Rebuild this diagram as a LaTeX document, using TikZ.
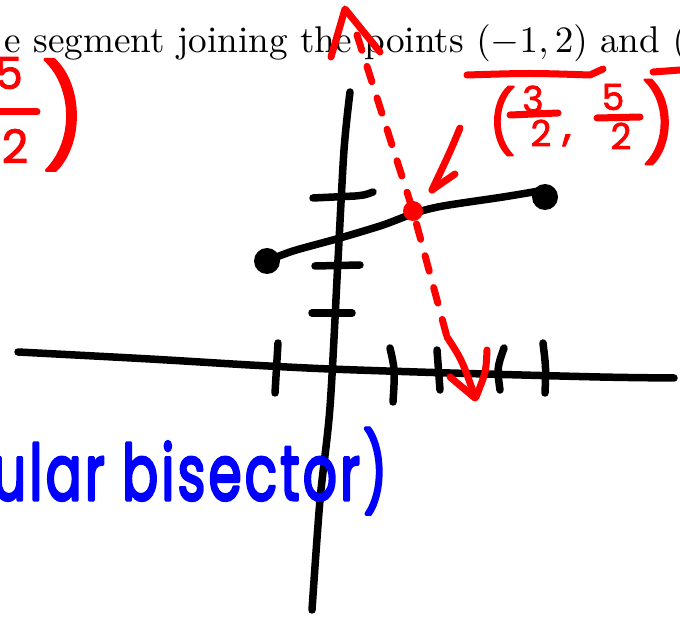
\documentclass[tikz,border=0pt]{standalone}
\usepackage{fontspec}
\newfontfamily\hand{Poppins}
\begin{document}
\begin{tikzpicture}[x=1pt,y=-1pt,line cap=round,line join=round,
  blk/.style={line width=7.5pt,black},
  rd/.style={line width=7pt,red},
  hr/.style={text=red,inner sep=0pt,font=\hand},
  ]
\useasboundingbox (0,0) rectangle (680,617);
\clip (0,0) rectangle (680,617);
% printed text
\node[anchor=base west, inner sep=0pt, scale=3.72] (title) at (4,53) {e segment joining the points $(-1,2)$ and $($};
% axes
\draw[blk] plot[smooth] coordinates {(18,352) (150,359) (250,365) (330,369) (450,373) (600,377) (674,378)};
\draw[blk] plot[smooth] coordinates {(350,92) (344,150) (338,260) (330,407) (320,500) (312,610)};
% y ticks
\draw[blk] (313,198) -- (355,196) .. controls (365,195) .. (373,192);
\draw[blk] (315,266) -- (360,265);
\draw[blk] (312,313) -- (352,313);
% x ticks
\draw[blk] (278,343) -- (275,393);
\draw[blk] (390,348) .. controls (395,370) .. (393,402);
\draw[blk] (437,350) -- (440,390);
\draw[blk] (504,348) .. controls (497,368) .. (500,390);
\draw[blk] (543,343) .. controls (546,368) .. (545,393);
% segment
\draw[blk] plot[smooth] coordinates {(267,261) (293,251) (340,238) (383,225) (415,213) (443,206) (503,197) (545,190)};
\fill[black] (267,261) circle (13);
\fill[black] (545,197) circle (13);
% perpendicular bisector (red dashed)
\draw[rd, dash pattern=on 16pt off 17pt] (357,35) -- (413,211) -- (447,337);
\draw[rd] (447,337) .. controls (462,360) .. (475,397);
\draw[rd] (450,377) -- (475,398);
\draw[rd] (487,350) .. controls (486,372) .. (476,397);
\draw[rd] (331,57) -- (345,9) -- (380,52);
\fill[red] (413,211) circle (10);
% label arrow
\draw[rd] (460,128) .. controls (450,152) .. (432,190);
\draw[rd] (455,174) -- (432,190);
% overlines
\draw[rd] (467,75) .. controls (530,73) .. (590,75) -- (603,69);
\draw[rd] (653,72) -- (680,70);
% midpoint label (3/2, 5/2)
\node[hr, font=\hand\addfontfeature{FakeBold=2}\fontsize{62}{62}\selectfont] (lp) at (502,121) {(};
\node[hr, font=\hand\addfontfeature{FakeBold=2}\fontsize{36}{36}\selectfont] (n1) at (533,99) {3};
\node[hr, font=\hand\addfontfeature{FakeBold=2}\fontsize{36}{36}\selectfont] (d1) at (541,133) {2};
\draw[rd] (510,115) -- (558,113);
\node[hr, anchor=base, font=\hand\addfontfeature{FakeBold=2}\fontsize{44}{44}\selectfont] (cm) at (567,140) {,};
\node[hr, font=\hand\addfontfeature{FakeBold=2}\fontsize{36}{36}\selectfont] (n2) at (613,97) {5};
\node[hr, font=\hand\addfontfeature{FakeBold=2}\fontsize{36}{36}\selectfont] (d2) at (621,136) {2};
\draw[rd] (597,118) -- (640,117);
\node[hr, font=\hand\addfontfeature{FakeBold=2}\fontsize{76}{76}\selectfont] (rp) at (659,122) {)};
% left partial label
\node[hr, font=\hand\addfontfeature{FakeBold=2}\fontsize{44}{44}\selectfont] (n3) at (9,73) {5};
\draw[rd] (0,112) -- (37,112);
\node[hr, font=\hand\addfontfeature{FakeBold=2}\fontsize{46}{46}\selectfont] (d3) at (15,146) {2};
\node[hr, font=\hand\addfontfeature{FakeBold=2}\fontsize{100}{100}\selectfont] (rp2) at (64,115) {)};
% blue text
\node[anchor=base west, inner sep=0pt, text=blue] (bis) at (-8,500) {\resizebox{395pt}{72pt}{\hand\addfontfeature{LetterSpace=6,FakeBold=4}ular bisector)}};
\end{tikzpicture}
\end{document}
